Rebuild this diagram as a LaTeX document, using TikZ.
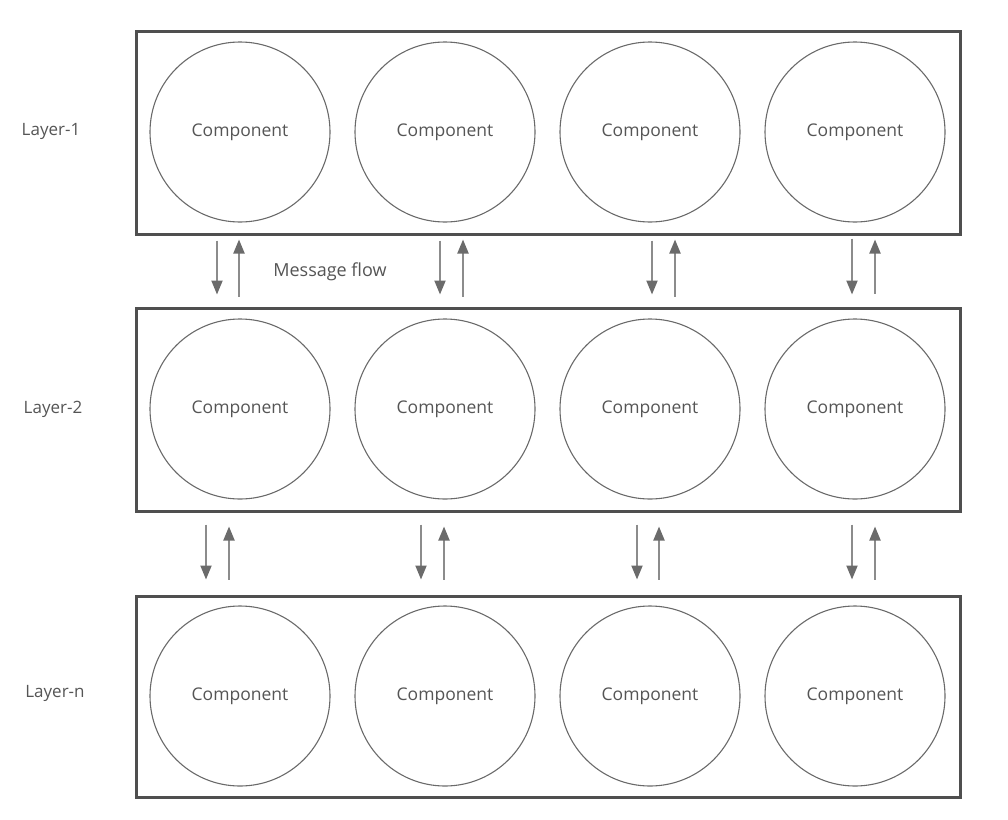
\documentclass[tikz,border=0pt]{standalone}
\usepackage{fontspec}
\setmainfont{Open Sans}
\usetikzlibrary{arrows.meta}
\definecolor{boxgray}{HTML}{4F4F4F}
\definecolor{ringgray}{HTML}{6A6A6A}
\definecolor{textgray}{HTML}{555555}
\definecolor{shaftgray}{HTML}{8C8C8C}
\definecolor{tipgray}{HTML}{6B6B6B}

\begin{document}
\begin{tikzpicture}[x=1pt,y=-1pt]
\tikzset{
  layerbox/.style={rectangle,draw=boxgray,line width=3pt,minimum width=824pt,inner sep=0pt},
  component/.style={circle,draw=ringgray,line width=1.1pt,minimum size=180pt,inner sep=0pt,
    text=textgray,font=\fontsize{17.5}{20}\selectfont},
  layerlabel/.style={text=textgray,font=\fontsize{17}{20}\selectfont},
  flow/.style={shaftgray,line width=2pt,-{Triangle[length=14pt,width=11pt,color=tipgray]}}
}
\useasboundingbox (0,0) rectangle (1008,819);
% layers
\node[layerbox,minimum height=203pt] (n_b1) at (548,132.5) {};
\node[layerbox,minimum height=203pt] (n_b2) at (548,409.5) {};
\node[layerbox,minimum height=201pt] (n_b3) at (548,696.5) {};
\node[layerlabel] (n_l1) at (51,131) {Layer-1};
\node[layerlabel] (n_l2) at (53,409) {Layer-2};
\node[layerlabel] (n_ln) at (55,693) {Layer-n};
% components
\node[component] (n_c11) at (240,132) {Component};
\node[component] (n_c12) at (445,132) {Component};
\node[component] (n_c13) at (650,132) {Component};
\node[component] (n_c14) at (855,132) {Component};
\node[component] (n_c21) at (240,409) {Component};
\node[component] (n_c22) at (445,409) {Component};
\node[component] (n_c23) at (650,409) {Component};
\node[component] (n_c24) at (855,409) {Component};
\node[component] (n_c31) at (240,696) {Component};
\node[component] (n_c32) at (445,696) {Component};
\node[component] (n_c33) at (650,696) {Component};
\node[component] (n_c34) at (855,696) {Component};
\node[layerlabel,font=\fontsize{18}{20}\selectfont] (n_msg) at (330,272) {Message flow};
% arrow columns
\coordinate (x_d11) at (217,0);
\coordinate (x_u11) at (239,0);
\coordinate (x_d12) at (440,0);
\coordinate (x_u12) at (463,0);
\coordinate (x_d13) at (652,0);
\coordinate (x_u13) at (675,0);
\coordinate (x_d14) at (852,0);
\coordinate (x_u14) at (875,0);
\coordinate (x_d21) at (206,0);
\coordinate (x_u21) at (229,0);
\coordinate (x_d22) at (421,0);
\coordinate (x_u22) at (444,0);
\coordinate (x_d23) at (637,0);
\coordinate (x_u23) at (659,0);
\coordinate (x_d24) at (852,0);
\coordinate (x_u24) at (875,0);
% message flow, layer 1 <-> layer 2
\draw[flow,shorten <=5pt,shorten >=12pt] (n_b1.south -| x_d11) -- (n_b2.north -| x_d11);
\draw[flow,shorten <=10pt,shorten >=4pt] (n_b2.north -| x_u11) -- (n_b1.south -| x_u11);
\draw[flow,shorten <=5pt,shorten >=12pt] (n_b1.south -| x_d12) -- (n_b2.north -| x_d12);
\draw[flow,shorten <=10pt,shorten >=4pt] (n_b2.north -| x_u12) -- (n_b1.south -| x_u12);
\draw[flow,shorten <=5pt,shorten >=12pt] (n_b1.south -| x_d13) -- (n_b2.north -| x_d13);
\draw[flow,shorten <=10pt,shorten >=4pt] (n_b2.north -| x_u13) -- (n_b1.south -| x_u13);
\draw[flow,shorten <=3pt,shorten >=12pt] (n_b1.south -| x_d14) -- (n_b2.north -| x_d14);
\draw[flow,shorten <=13pt,shorten >=4pt] (n_b2.north -| x_u14) -- (n_b1.south -| x_u14);
% message flow, layer 2 <-> layer n
\draw[flow,shorten <=12pt,shorten >=15pt] (n_b2.south -| x_d21) -- (n_b3.north -| x_d21);
\draw[flow,shorten <=15pt,shorten >=14pt] (n_b3.north -| x_u21) -- (n_b2.south -| x_u21);
\draw[flow,shorten <=12pt,shorten >=15pt] (n_b2.south -| x_d22) -- (n_b3.north -| x_d22);
\draw[flow,shorten <=15pt,shorten >=14pt] (n_b3.north -| x_u22) -- (n_b2.south -| x_u22);
\draw[flow,shorten <=12pt,shorten >=15pt] (n_b2.south -| x_d23) -- (n_b3.north -| x_d23);
\draw[flow,shorten <=15pt,shorten >=14pt] (n_b3.north -| x_u23) -- (n_b2.south -| x_u23);
\draw[flow,shorten <=12pt,shorten >=15pt] (n_b2.south -| x_d24) -- (n_b3.north -| x_d24);
\draw[flow,shorten <=15pt,shorten >=14pt] (n_b3.north -| x_u24) -- (n_b2.south -| x_u24);
\end{tikzpicture}
\end{document}
